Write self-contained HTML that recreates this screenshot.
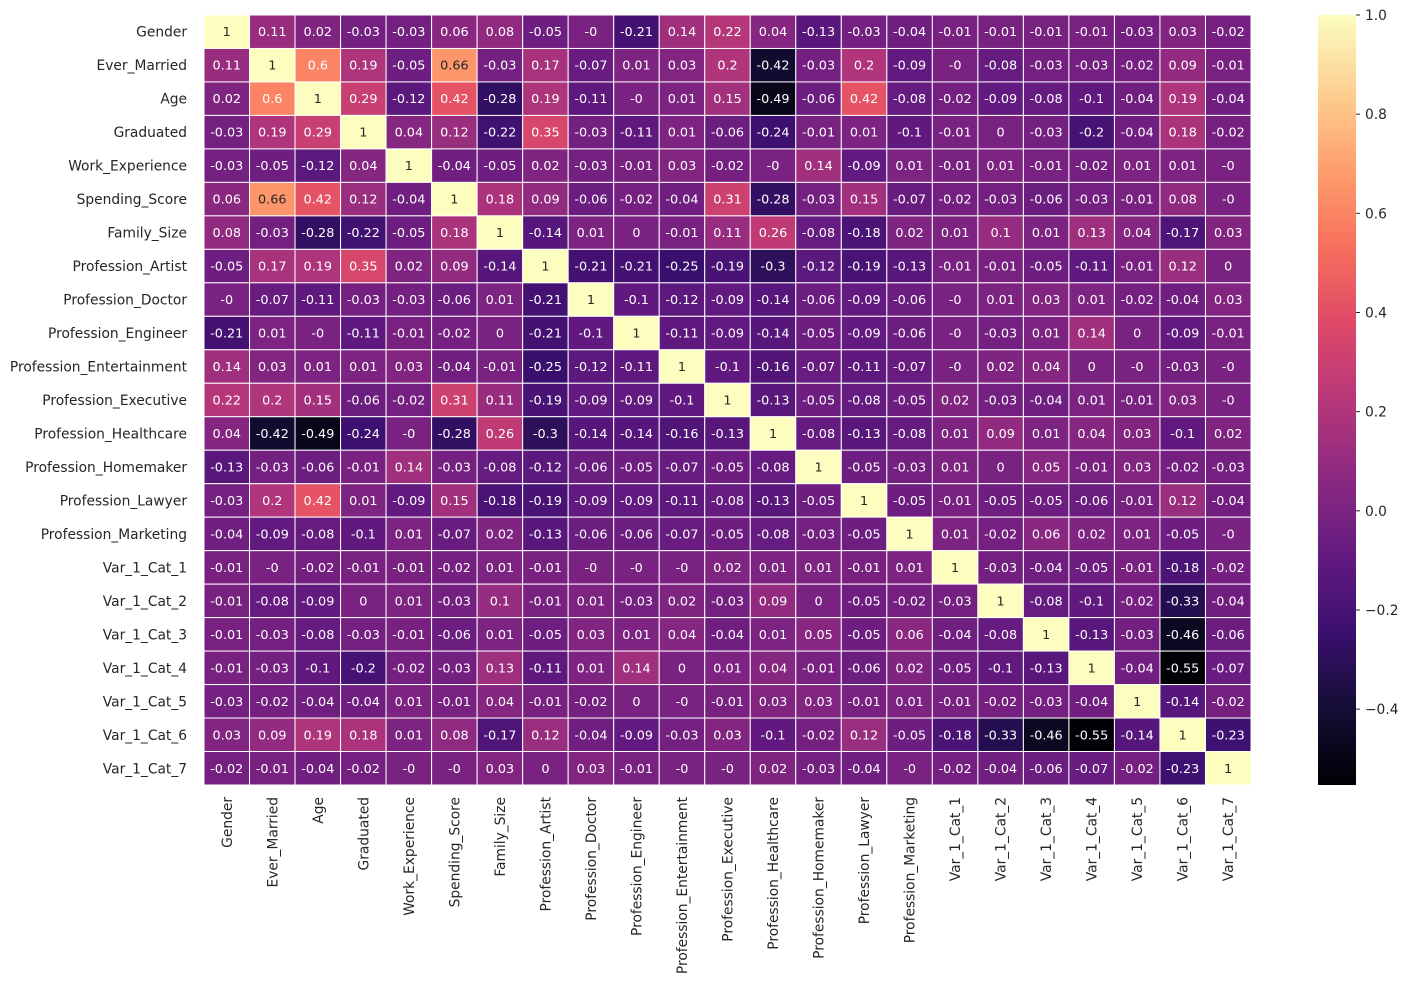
<!DOCTYPE html>
<html><head><meta charset="utf-8"><style>
html,body{margin:0;padding:0;background:#fff;}
svg text{font-family:"DejaVu Sans","Liberation Sans",sans-serif;}
</style></head><body>
<svg id="s" width="1409" height="983" xmlns="http://www.w3.org/2000/svg"></svg>
<script>
const labels=["Gender","Ever_Married","Age","Graduated","Work_Experience","Spending_Score","Family_Size","Profession_Artist","Profession_Doctor","Profession_Engineer","Profession_Entertainment","Profession_Executive","Profession_Healthcare","Profession_Homemaker","Profession_Lawyer","Profession_Marketing","Var_1_Cat_1","Var_1_Cat_2","Var_1_Cat_3","Var_1_Cat_4","Var_1_Cat_5","Var_1_Cat_6","Var_1_Cat_7"];
const D=`1,0.11,0.02,-0.03,-0.03,0.06,0.08,-0.05,-0,-0.21,0.14,0.22,0.04,-0.13,-0.03,-0.04,-0.01,-0.01,-0.01,-0.01,-0.03,0.03,-0.02
0.11,1,0.6,0.19,-0.05,0.66,-0.03,0.17,-0.07,0.01,0.03,0.2,-0.42,-0.03,0.2,-0.09,-0,-0.08,-0.03,-0.03,-0.02,0.09,-0.01
0.02,0.6,1,0.29,-0.12,0.42,-0.28,0.19,-0.11,-0,0.01,0.15,-0.49,-0.06,0.42,-0.08,-0.02,-0.09,-0.08,-0.1,-0.04,0.19,-0.04
-0.03,0.19,0.29,1,0.04,0.12,-0.22,0.35,-0.03,-0.11,0.01,-0.06,-0.24,-0.01,0.01,-0.1,-0.01,0,-0.03,-0.2,-0.04,0.18,-0.02
-0.03,-0.05,-0.12,0.04,1,-0.04,-0.05,0.02,-0.03,-0.01,0.03,-0.02,-0,0.14,-0.09,0.01,-0.01,0.01,-0.01,-0.02,0.01,0.01,-0
0.06,0.66,0.42,0.12,-0.04,1,0.18,0.09,-0.06,-0.02,-0.04,0.31,-0.28,-0.03,0.15,-0.07,-0.02,-0.03,-0.06,-0.03,-0.01,0.08,-0
0.08,-0.03,-0.28,-0.22,-0.05,0.18,1,-0.14,0.01,0,-0.01,0.11,0.26,-0.08,-0.18,0.02,0.01,0.1,0.01,0.13,0.04,-0.17,0.03
-0.05,0.17,0.19,0.35,0.02,0.09,-0.14,1,-0.21,-0.21,-0.25,-0.19,-0.3,-0.12,-0.19,-0.13,-0.01,-0.01,-0.05,-0.11,-0.01,0.12,0
-0,-0.07,-0.11,-0.03,-0.03,-0.06,0.01,-0.21,1,-0.1,-0.12,-0.09,-0.14,-0.06,-0.09,-0.06,-0,0.01,0.03,0.01,-0.02,-0.04,0.03
-0.21,0.01,-0,-0.11,-0.01,-0.02,0,-0.21,-0.1,1,-0.11,-0.09,-0.14,-0.05,-0.09,-0.06,-0,-0.03,0.01,0.14,0,-0.09,-0.01
0.14,0.03,0.01,0.01,0.03,-0.04,-0.01,-0.25,-0.12,-0.11,1,-0.1,-0.16,-0.07,-0.11,-0.07,-0,0.02,0.04,0,-0,-0.03,-0
0.22,0.2,0.15,-0.06,-0.02,0.31,0.11,-0.19,-0.09,-0.09,-0.1,1,-0.13,-0.05,-0.08,-0.05,0.02,-0.03,-0.04,0.01,-0.01,0.03,-0
0.04,-0.42,-0.49,-0.24,-0,-0.28,0.26,-0.3,-0.14,-0.14,-0.16,-0.13,1,-0.08,-0.13,-0.08,0.01,0.09,0.01,0.04,0.03,-0.1,0.02
-0.13,-0.03,-0.06,-0.01,0.14,-0.03,-0.08,-0.12,-0.06,-0.05,-0.07,-0.05,-0.08,1,-0.05,-0.03,0.01,0,0.05,-0.01,0.03,-0.02,-0.03
-0.03,0.2,0.42,0.01,-0.09,0.15,-0.18,-0.19,-0.09,-0.09,-0.11,-0.08,-0.13,-0.05,1,-0.05,-0.01,-0.05,-0.05,-0.06,-0.01,0.12,-0.04
-0.04,-0.09,-0.08,-0.1,0.01,-0.07,0.02,-0.13,-0.06,-0.06,-0.07,-0.05,-0.08,-0.03,-0.05,1,0.01,-0.02,0.06,0.02,0.01,-0.05,-0
-0.01,-0,-0.02,-0.01,-0.01,-0.02,0.01,-0.01,-0,-0,-0,0.02,0.01,0.01,-0.01,0.01,1,-0.03,-0.04,-0.05,-0.01,-0.18,-0.02
-0.01,-0.08,-0.09,0,0.01,-0.03,0.1,-0.01,0.01,-0.03,0.02,-0.03,0.09,0,-0.05,-0.02,-0.03,1,-0.08,-0.1,-0.02,-0.33,-0.04
-0.01,-0.03,-0.08,-0.03,-0.01,-0.06,0.01,-0.05,0.03,0.01,0.04,-0.04,0.01,0.05,-0.05,0.06,-0.04,-0.08,1,-0.13,-0.03,-0.46,-0.06
-0.01,-0.03,-0.1,-0.2,-0.02,-0.03,0.13,-0.11,0.01,0.14,0,0.01,0.04,-0.01,-0.06,0.02,-0.05,-0.1,-0.13,1,-0.04,-0.55,-0.07
-0.03,-0.02,-0.04,-0.04,0.01,-0.01,0.04,-0.01,-0.02,0,-0,-0.01,0.03,0.03,-0.01,0.01,-0.01,-0.02,-0.03,-0.04,1,-0.14,-0.02
0.03,0.09,0.19,0.18,0.01,0.08,-0.17,0.12,-0.04,-0.09,-0.03,0.03,-0.1,-0.02,0.12,-0.05,-0.18,-0.33,-0.46,-0.55,-0.14,1,-0.23
-0.02,-0.01,-0.04,-0.02,-0,-0,0.03,0,0.03,-0.01,-0,-0,0.02,-0.03,-0.04,-0,-0.02,-0.04,-0.06,-0.07,-0.02,-0.23,1`.split("\n").map(r=>r.split(","));
const stops=["#000004","#140e36","#3b0f70","#641a80","#8c2981","#b73779","#de4968","#f7705c","#fe9f6d","#fecf92","#fcfdbf"].map(h=>[1,3,5].map(i=>parseInt(h.substr(i,2),16)));
const vmin=-0.553,vmax=1;
function cmap(v){let t=(v-vmin)/(vmax-vmin);t=Math.max(0,Math.min(1,t));let f=t*10,i=Math.min(9,Math.floor(f)),u=f-i;
 const c=stops[i].map((a,k)=>a+(stops[i+1][k]-a)*u);return c;}
function hex(c){return "rgb("+c.map(Math.round).join(",")+")";}
function lum(c){const l=c.map(x=>{x/=255;return x<=0.03928?x/12.92:Math.pow((x+0.055)/1.055,2.4)});return 0.2126*l[0]+0.7152*l[1]+0.0722*l[2];}
const X0=204,Y0=15,W=(1251-204)/23,H=(785-15)/23;
let s="";
for(let r=0;r<23;r++)for(let c=0;c<23;c++){
 const v=parseFloat(D[r][c]);const col=cmap(v);
 const x=X0+c*W,y=Y0+r*H;
 s+=`<rect x="${x}" y="${y}" width="${W}" height="${H}" fill="${hex(col)}" stroke="#fff" stroke-width="1"/>`;
 s+=`<text x="${x+W/2}" y="${y+H/2+4.5}" font-size="12.8" text-anchor="middle" fill="${lum(col)>0.408?'#262626':'#fff'}">${D[r][c]}</text>`;
}
for(let i=0;i<23;i++){
 const y=Y0+i*H+H/2;
 s+=`<text x="187" y="${y+5}" font-size="13.8" text-anchor="end" fill="#262626">${labels[i]}</text>`;
 const x=X0+i*W+W/2;
 s+=`<text transform="translate(${x+5},797) rotate(-90)" font-size="13.8" text-anchor="end" fill="#262626">${labels[i]}</text>`;
}
const CX=1318,CW=38,CT=15,CB=785;
s+=`<defs><linearGradient id="g" x1="0" y1="1" x2="0" y2="0">`;
for(let k=0;k<=20;k++){const v=vmin+(vmax-vmin)*k/20;s+=`<stop offset="${k/20}" stop-color="${hex(cmap(v))}"/>`;}
s+=`</linearGradient></defs><rect x="${CX}" y="${CT}" width="${CW}" height="${CB-CT}" fill="url(#g)"/>`;
for(const t of [1,0.8,0.6,0.4,0.2,0,-0.2,-0.4]){
 const y=CT+(vmax-t)/(vmax-vmin)*(CB-CT);
 s+=`<line x1="${CX+CW}" x2="${CX+CW+4}" y1="${y}" y2="${y}" stroke="#262626" stroke-width="1"/>`;
 s+=`<text x="${CX+CW+9}" y="${y+5}" font-size="13.8" fill="#262626">${t<0?'−'+(-t).toFixed(1):t.toFixed(1)}</text>`;
}
document.getElementById("s").innerHTML=s;
</script>
</body></html>
